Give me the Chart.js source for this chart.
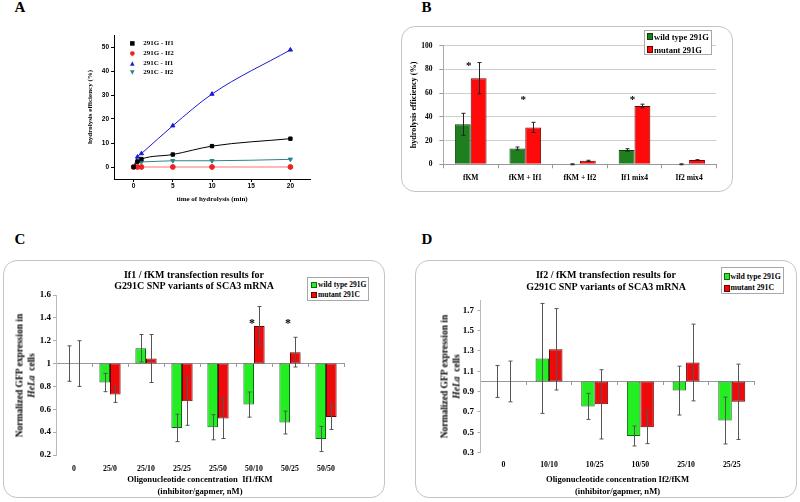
<!DOCTYPE html>
<html><head><meta charset="utf-8">
<script src="https://cdn.jsdelivr.net/npm/chart.js@4.4.1/dist/chart.umd.min.js"></script>
<style>
html,body{margin:0;padding:0;background:#fff;}
body{width:800px;height:502px;position:relative;overflow:hidden;font-family:"Liberation Serif",serif;color:#000;}
canvas{position:absolute;}
.lbl{position:absolute;font:bold 15px "Liberation Serif";line-height:15px;}
.box{position:absolute;border:1px solid #c4c4c4;border-radius:14px;box-sizing:border-box;}
.leg{position:absolute;border:1px solid #a8a8a8;background:#fff;box-sizing:border-box;}
.row{position:absolute;left:0;white-space:nowrap;font-weight:bold;}
.sq{position:absolute;box-sizing:border-box;border:1px solid #333;}
.yt{position:absolute;width:220px;transform:rotate(-90deg);transform-origin:50% 50%;text-align:center;font:bold 9.5px "Liberation Serif";line-height:11.5px;white-space:nowrap;}
.la{position:absolute;font:bold 7px "Liberation Serif";line-height:10px;white-space:nowrap;}
.mk{display:inline-block;width:10px;text-align:center;font-family:"DejaVu Sans";font-size:6px;}
</style>
</head><body>

<div class="lbl" style="left:14.5px;top:0px;">A</div>
<div class="lbl" style="left:421.5px;top:0px;">B</div>
<div class="lbl" style="left:14.5px;top:232px;">C</div>
<div class="lbl" style="left:421.5px;top:232px;">D</div>

<canvas id="cA" width="400" height="210" style="left:0;top:0;"></canvas>

<div class="box" style="left:401px;top:26px;width:332px;height:166px;"></div>
<canvas id="cB" width="330" height="166" style="left:400px;top:26px;"></canvas>

<div class="box" style="left:3px;top:260px;width:382px;height:238px;"></div>
<canvas id="cC" width="382" height="238" style="left:3px;top:260px;"></canvas>

<div class="box" style="left:415px;top:260px;width:382px;height:238px;"></div>
<canvas id="cD" width="382" height="238" style="left:415px;top:260px;"></canvas>

<div id="legA"></div>
<div id="legB" class="leg" style="left:644px;top:30px;width:68px;height:25px;font:bold 8.5px 'Liberation Serif';"></div>
<div id="legC" class="leg" style="left:307px;top:277px;width:62px;height:24px;font:bold 7.5px 'Liberation Serif';"></div>
<div id="legD" class="leg" style="left:721px;top:267px;width:63px;height:27px;font:bold 7.8px 'Liberation Serif';"></div>

<div class="yt" style="left:-83.8px;top:363.5px;height:23px;">Normalized GFP expression in<br><i>HeLa</i>&nbsp; cells</div>
<div class="yt" style="left:340.5px;top:364.5px;height:23px;">Normalized GFP expression in<br><i>HeLa</i>&nbsp; cells</div>

<script>
// ---------------- DATA ----------------
// Panel A
const timeA = [0, 0.5, 1, 5, 10, 20];
const g291If1 = [0, 2.3, 3.3, 5.2, 8.7, 11.8];
const g291If2 = [0, 0, 0, 0, 0, 0];
const c291If1 = [0, 4.2, 5.6, 17.2, 30.4, 48.8];
const c291If2 = [0, 2.0, 2.1, 2.6, 2.6, 3.2];
const seriesNamesA = ['291G - If1', '291G - If2', '291C - If1', '291C - If2'];
const xTicksA = [0, 5, 10, 15, 20];
const yTicksA = [0, 10, 20, 30, 40, 50];

// Panel B
const catsB = ['fKM', 'fKM + If1', 'fKM + If2', 'If1 mix4', 'If2 mix4'];
const wtB = [33.7, 13.4, 0, 12.1, 0];
const wtErrB = [9.3, 1.2, 0.4, 1.0, 0.4];
const mutB = [72.6, 31.1, 2.9, 49.2, 3.6];
const mutErrB = [13.2, 4.3, 0.5, 1.5, 0.3];
const starCatsB = [0, 1, 3];
const starValsB = [83, 54, 54];
const yTicksB = [0, 20, 40, 60, 80, 100];
const namesB = ['wild type 291G', 'mutant 291G'];

// Panel C
const catsC = ['0', '25/0', '25/10', '25/25', '25/50', '50/10', '50/25', '50/50'];
const wtC = [1, 0.834, 1.134, 0.437, 0.443, 0.641, 0.484, 0.34];
const wtErrC = [0.155, 0.08, 0.12, 0.12, 0.11, 0.11, 0.10, 0.11];
const mutC = [1, 0.73, 1.044, 0.67, 0.519, 1.329, 1.10, 0.533];
const mutErrC = [0.2, 0.07, 0.21, 0.21, 0.175, 0.17, 0.13, 0.11];
const starCatsC = [5, 6];
const starValsC = [1.35, 1.35];
const yTicksC = [0.2, 0.4, 0.6, 0.8, 1.0, 1.2, 1.4, 1.6];

// Panel D
const catsD = ['0', '10/10', '10/25', '10/50', '25/10', '25/25'];
const wtD = [1, 1.226, 0.755, 0.464, 0.91, 0.616];
const wtErrD = [0.157, 0.54, 0.128, 0.098, 0.24, 0.23];
const mutD = [1, 1.316, 0.775, 0.549, 1.186, 0.80];
const mutErrD = [0.2, 0.40, 0.34, 0.16, 0.377, 0.37];
const yTicksD = [0.3, 0.5, 0.7, 0.9, 1.1, 1.3, 1.5, 1.7];
const namesCD = ['wild type 291G', 'mutant 291C'];

// ---------------- STYLE ----------------
Chart.defaults.font.family = "'Liberation Serif', serif";
Chart.defaults.color = '#000';
Chart.defaults.animation = false;
Chart.defaults.plugins.tooltip.enabled = false;
Chart.defaults.plugins.legend.display = false;

const colA = {
  line: ['#000000', '#ff7070', '#1a1ad8', '#2b8585'],
  point: ['#000000', '#ee2222', '#1a1ad8', '#2b8585'],
  style: ['rect', 'circle', 'triangle', 'triangle'],
  rot: [0, 0, 0, 180]
};
const colB = {wt: '#1f7f1f', wtBorder: '#0d3d0d', mut: '#ff0a0a', mutBorder: '#6a0000'};
const colCD = {wt: '#22ee22', wtBorder: '#116611', mut: '#ee0a0a', mutBorder: '#6a0000'};

const fixTicks = arr => (s => { s.ticks = arr.map(v => ({value: v})); });
const fmt1 = v => String(Math.round(v * 10) / 10);

// ---------------- PLUGINS ----------------
const errorBars = {
  id: 'errorBars',
  afterDatasetsDraw(chart, args, opts) {
    const ctx = chart.ctx, ys = chart.scales.y;
    chart.data.datasets.forEach((ds, di) => {
      if (!ds.errors) return;
      const meta = chart.getDatasetMeta(di);
      meta.data.forEach((bar, i) => {
        const v = ds.centers[i], e = ds.errors[i];
        const x = Math.round(bar.x) + 0.5;
        const y1 = ys.getPixelForValue(v + e), y2 = ys.getPixelForValue(v - e);
        ctx.save();
        ctx.strokeStyle = opts.color; ctx.lineWidth = 1;
        ctx.beginPath();
        ctx.moveTo(x, y1); ctx.lineTo(x, y2);
        ctx.moveTo(x - opts.cap, y1); ctx.lineTo(x + opts.cap, y1);
        ctx.moveTo(x - opts.cap, y2); ctx.lineTo(x + opts.cap, y2);
        ctx.stroke();
        ctx.restore();
      });
    });
  }
};
const stars = {
  id: 'stars',
  afterDatasetsDraw(chart, args, opts) {
    if (!opts.cats) return;
    const ctx = chart.ctx, xs = chart.scales.x, ys = chart.scales.y;
    ctx.save();
    ctx.font = opts.font; ctx.fillStyle = '#000';
    ctx.textAlign = 'center'; ctx.textBaseline = 'middle';
    opts.cats.forEach((c, i) => {
      ctx.fillText('*', xs.getPixelForValue(c) + opts.dx, ys.getPixelForValue(opts.vals[i]));
    });
    ctx.restore();
  }
};
Chart.register(errorBars, stars);

// ---------------- PANEL A ----------------
const seriesA = [g291If1, g291If2, c291If1, c291If2];
new Chart(document.getElementById('cA'), {
  type: 'line',
  data: {
    datasets: seriesA.map((s, k) => ({
      label: seriesNamesA[k],
      data: timeA.map((t, i) => ({x: t, y: s[i]})),
      borderColor: colA.line[k],
      backgroundColor: colA.point[k],
      pointBorderColor: colA.point[k],
      pointBackgroundColor: colA.point[k],
      pointStyle: colA.style[k],
      pointRotation: colA.rot[k],
      pointRadius: 2.4,
      borderWidth: 1,
      cubicInterpolationMode: 'monotone',
      fill: false
    }))
  },
  options: {
    responsive: false,
    layout: {padding: {left: 82, right: 90, top: 35, bottom: 3}},
    plugins: {errorBars: {}, stars: {}},
    scales: {
      x: {
        type: 'linear', min: -2.5, max: 22.5,
        afterBuildTicks: fixTicks(xTicksA),
        afterFit: s => { s.height = 28; },
        grid: {drawOnChartArea: false, tickLength: 3, color: '#000'},
        border: {color: '#000'},
        ticks: {font: {family: "'Liberation Sans'", weight: 'bold', size: 6.5}, padding: 0, color: '#000'},
        title: {display: true, text: 'time of hydrolysis (min)', font: {weight: 'bold', size: 7}, padding: {top: 4, bottom: 4}}
      },
      y: {
        type: 'linear', min: -5, max: 55,
        afterBuildTicks: fixTicks(yTicksA),
        afterFit: s => { s.width = 32; },
        grid: {drawOnChartArea: false, tickLength: 3, color: '#000'},
        border: {color: '#000'},
        ticks: {font: {family: "'Liberation Sans'", weight: 'bold', size: 6.5}, padding: 2, color: '#000'},
        title: {display: true, text: 'hydrolysis efficiency (%)', font: {weight: 'bold', size: 7}, padding: {top: 4, bottom: 4}}
      }
    }
  }
});

(function () {
  const glyph = ['\u25A0', '\u25CF', '\u25B2', '\u25BC'];
  const rowsY = [43.3, 52.9, 62.5, 72.1];
  const host = document.getElementById('legA');
  seriesNamesA.forEach((n, k) => {
    const d = document.createElement('div');
    d.className = 'la';
    d.style.left = '127.3px';
    d.style.top = (rowsY[k] - 5) + 'px';
    d.innerHTML = '<span class="mk" style="color:' + colA.point[k] + '">' + glyph[k] + '</span><span style="margin-left:6px">' + n + '</span>';
    host.appendChild(d);
  });
})();

// ---------------- PANEL B ----------------
new Chart(document.getElementById('cB'), {
  type: 'bar',
  data: {
    labels: catsB,
    datasets: [
      {label: namesB[0], data: wtB, centers: wtB, errors: wtErrB, backgroundColor: colB.wt, borderColor: colB.wtBorder, borderWidth: 1},
      {label: namesB[1], data: mutB, centers: mutB, errors: mutErrB, backgroundColor: colB.mut, borderColor: colB.mutBorder, borderWidth: 1}
    ]
  },
  options: {
    responsive: false,
    barPercentage: 1, categoryPercentage: 0.58,
    layout: {padding: {left: 5, right: 13.6, top: 19.7, bottom: 0}},
    plugins: {
      errorBars: {color: '#222', cap: 2},
      stars: {cats: starCatsB, vals: starValsB, font: "bold 11px 'Liberation Serif'", dx: -2}
    },
    scales: {
      x: {
        afterFit: s => { s.height = 27.7; },
        grid: {offset: true, drawOnChartArea: false, tickLength: 4, color: '#999'},
        border: {color: '#999'},
        ticks: {font: {weight: 'bold', size: 7.6}, padding: 5}
      },
      y: {
        min: 0, max: 100,
        afterBuildTicks: fixTicks(yTicksB),
        afterFit: s => { s.width = 38.4; },
        grid: {color: '#cfcfcf', tickLength: 4, tickColor: '#999'},
        border: {color: '#aaa'},
        ticks: {font: {weight: 'bold', size: 7.5}, padding: 7},
        title: {display: true, text: 'hydrolysis efficiency (%)', font: {weight: 'bold', size: 8.2}, padding: {top: 4, bottom: 4}}
      }
    }
  }
});

// ---------------- PANELS C & D ----------------
function floatChart(id, cats, wt, wtErr, mut, mutErr, yTicks, ymin, ymax, titleLines, xTitle, starCats, starVals, geo) {
  return new Chart(document.getElementById(id), {
    type: 'bar',
    data: {
      labels: cats,
      datasets: [
        {label: namesCD[0], data: wt.map(v => [1, v]), centers: wt, errors: wtErr, backgroundColor: colCD.wt, borderColor: colCD.wtBorder,
         borderWidth: c => (c.raw && c.raw[0] === c.raw[1]) ? 0 : 1, borderSkipped: false},
        {label: namesCD[1], data: mut.map(v => [1, v]), centers: mut, errors: mutErr, backgroundColor: colCD.mut, borderColor: colCD.mutBorder,
         borderWidth: c => (c.raw && c.raw[0] === c.raw[1]) ? 0 : 1, borderSkipped: false}
      ]
    },
    options: {
      responsive: false,
      barPercentage: 1, categoryPercentage: 0.59,
      layout: {padding: 0},
      plugins: {
        title: {display: true, text: titleLines, font: {weight: 'bold', size: 10, lineHeight: geo.titleLH}, padding: {top: geo.titleTop, bottom: geo.titleBottom}, color: '#000'},
        errorBars: {color: '#555', cap: 2},
        stars: {cats: starCats, vals: starVals, font: "bold 12px 'Liberation Serif'", dx: -2}
      },
      scales: {
        x: {
          afterFit: s => { s.height = geo.xH; },
          grid: {display: false, drawTicks: false},
          border: {display: false},
          ticks: {font: {weight: 'bold', size: 7.8}, padding: geo.xPad},
          title: {display: true, text: xTitle, font: {weight: 'bold', size: 8.6, lineHeight: '12.4px'}, padding: {top: 0, bottom: 0.1}}
        },
        x2: {
          type: 'category', axis: 'x', labels: cats, position: {y: 1}, offset: true,
          grid: {offset: true, drawOnChartArea: false, tickLength: 3, color: '#999'},
          border: {color: '#999'},
          ticks: {display: false}
        },
        y: {
          min: ymin, max: ymax,
          afterBuildTicks: fixTicks(yTicks),
          afterFit: s => { s.width = geo.yW; },
          grid: {drawOnChartArea: false, tickLength: 3, color: '#aaa'},
          border: {color: '#bbb'},
          ticks: {font: {weight: 'bold', size: 9}, padding: geo.yPad, callback: v => fmt1(v)}
        },
        yRight: {
          type: 'linear', position: 'right', axis: 'y',
          afterFit: s => { s.width = geo.rightW; },
          grid: {display: false, drawTicks: false},
          border: {display: false},
          ticks: {display: false}
        }
      }
    }
  });
}

floatChart('cC', catsC, wtC, wtErrC, mutC, mutErrC, yTicksC, 0.2, 1.6,
  ['If1 / fKM transfection results for', 'G291C SNP variants of SCA3 mRNA'],
  ['Oligonucleotide concentration  If1/fKM', '(inhibitor/gapmer, nM)'],
  starCatsC, starValsC,
  {yW: 53, rightW: 41, xH: 43, xPad: 8.8, titleLH: 1.15, titleTop: 9.25, titleBottom: 2.75, yPad: 2});

floatChart('cD', catsD, wtD, wtErrD, mutD, mutErrD, yTicksD, 0.3, 1.8,
  ['If2 / fKM transfection results for', 'G291C SNP variants of SCA3 mRNA'],
  ['Oligonucleotide concentration If2/fKM', '(inhibitor/gapmer, nM)'],
  [], [],
  {yW: 65.5, rightW: 42.4, xH: 45.3, xPad: 7.8, titleLH: 1.17, titleTop: 9.45, titleBottom: 7.15, yPad: 3.5});

// ---------------- HTML legends B, C, D ----------------
function fillLegend(id, names, cols, rows, sqLeft, sqSize, textLeft) {
  const host = document.getElementById(id);
  names.forEach((n, k) => {
    const sq = document.createElement('div');
    sq.className = 'sq';
    sq.style.cssText = 'left:' + sqLeft + 'px;top:' + (rows[k] - sqSize / 2) + 'px;width:' + sqSize + 'px;height:' + sqSize + 'px;background:' + cols[k][0] + ';border-color:' + cols[k][1] + ';';
    host.appendChild(sq);
    const t = document.createElement('div');
    t.className = 'row';
    t.style.cssText = 'left:' + textLeft + 'px;top:' + (rows[k] - 6) + 'px;line-height:12px;';
    t.textContent = n;
    host.appendChild(t);
  });
}
fillLegend('legB', namesB, [[colB.wt, colB.wtBorder], [colB.mut, colB.mutBorder]], [5.5, 18.5], 1.5, 6.5, 9);
fillLegend('legC', namesCD, [[colCD.wt, colCD.wtBorder], [colCD.mut, colCD.mutBorder]], [6.8, 16.8], 2.5, 6.5, 10);
fillLegend('legD', namesCD, [[colCD.wt, colCD.wtBorder], [colCD.mut, colCD.mutBorder]], [8.7, 20.3], 1.5, 6.5, 8.5);
</script>
</body></html>
